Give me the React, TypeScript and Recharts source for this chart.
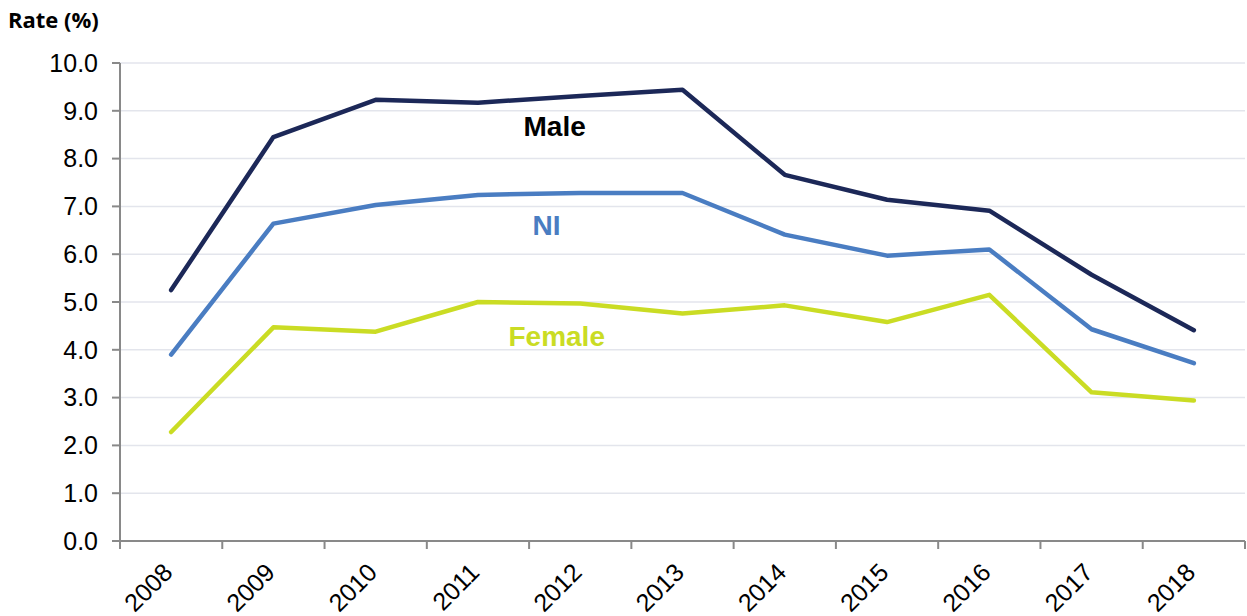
import React from 'react';
import {
  LineChart, Line, XAxis, YAxis, CartesianGrid, ReferenceDot,
} from 'recharts';

const years = ['2008', '2009', '2010', '2011', '2012', '2013', '2014', '2015', '2016', '2017', '2018'];
const male = [5.25, 8.45, 9.23, 9.17, 9.31, 9.44, 7.66, 7.14, 6.91, 5.57, 4.41];
const ni = [3.9, 6.64, 7.03, 7.24, 7.28, 7.28, 6.41, 5.97, 6.1, 4.43, 3.72];
const female = [2.28, 4.47, 4.38, 5.0, 4.97, 4.76, 4.93, 4.58, 5.15, 3.11, 2.94];
const yTicks = [0, 1, 2, 3, 4, 5, 6, 7, 8, 9, 10];

const data = years.map((y, i) => ({ idx: i, year: y, male: male[i], ni: ni[i], female: female[i] }));
const labelTicks = years.map((_, i) => i);
const boundaryTicks = [...years.map((_, i) => i - 0.5), years.length - 0.5];

const axisColor = '#898989';
const gridColor = '#E3E5EC';
const maleColor = '#1C2858';
const niColor = '#4A7DC2';
const femaleColor = '#CADC24';
const font = '"Liberation Sans", Arial, sans-serif';

function YearTick({ x, y, payload }: any) {
  const ax = x + 3;
  const ay = y + 24;
  return (
    <text
      x={ax}
      y={ay}
      transform={`rotate(-45, ${ax}, ${ay})`}
      textAnchor="end"
      fontSize={25}
      fontFamily={font}
      fill="#000"
    >
      {years[payload.value]}
    </text>
  );
}

function NoLabel() {
  return <g />;
}

function SeriesLabel({ viewBox, text, color }: any) {
  return (
    <text
      x={viewBox.cx ?? viewBox.x}
      y={viewBox.cy ?? viewBox.y}
      textAnchor="middle"
      dominantBaseline="central"
      fontSize={28}
      fontWeight="bold"
      fontFamily={font}
      fill={color}
    >
      {text}
    </text>
  );
}

export default function App() {
  return (
    <div style={{ position: 'absolute', left: 0, top: 0, width: 1247, height: 616, background: '#fff' }}>
      <div
        style={{
          position: 'absolute', left: 8, top: 4, fontFamily: '"Open Sans", sans-serif',
          fontWeight: 700, fontSize: 22, color: '#000', whiteSpace: 'nowrap',
        }}
      >
        Rate (%)
      </div>
      <LineChart width={1247} height={616} data={data} margin={{ top: 63, right: 2, left: 0, bottom: 0 }}>
        <CartesianGrid horizontal vertical={false} stroke={gridColor} strokeWidth={1.5} />
        {/* default axis: sits on the plot, carries the boundary tick marks */}
        <XAxis
          dataKey="idx"
          type="number"
          domain={[-0.5, years.length - 0.5]}
          ticks={boundaryTicks}
          tick={<NoLabel />}
          tickLine={{ stroke: axisColor, strokeWidth: 2 }}
          tickSize={8}
          height={1}
          stroke={axisColor}
          strokeWidth={2}
          interval={0}
          allowDataOverflow
        />
        {/* second axis below it, only for the rotated year labels */}
        <XAxis
          xAxisId="labels"
          dataKey="idx"
          type="number"
          domain={[-0.5, years.length - 0.5]}
          ticks={labelTicks}
          tick={<YearTick />}
          tickLine={false}
          axisLine={false}
          height={74}
          interval={0}
        />
        <YAxis
          domain={[0, 10]}
          ticks={yTicks}
          tickFormatter={(v: number) => v.toFixed(1)}
          tick={{ fontSize: 25, fill: '#000', fontFamily: font }}
          tickSize={8}
          tickMargin={14}
          width={120}
          stroke={axisColor}
          strokeWidth={2}
          interval={0}
        />
        <Line dataKey="male" stroke={maleColor} strokeWidth={4.5} dot={false} strokeLinecap="round" strokeLinejoin="round" isAnimationActive={false} />
        <Line dataKey="ni" stroke={niColor} strokeWidth={4.5} dot={false} strokeLinecap="round" strokeLinejoin="round" isAnimationActive={false} />
        <Line dataKey="female" stroke={femaleColor} strokeWidth={4.5} dot={false} strokeLinecap="round" strokeLinejoin="round" isAnimationActive={false} />
        <ReferenceDot x={3.75} y={8.68} r={0} stroke="none" label={<SeriesLabel text="Male" color="#000" />} />
        <ReferenceDot x={3.67} y={6.59} r={0} stroke="none" label={<SeriesLabel text="NI" color={niColor} />} />
        <ReferenceDot x={3.77} y={4.27} r={0} stroke="none" label={<SeriesLabel text="Female" color={femaleColor} />} />
      </LineChart>
    </div>
  );
}
